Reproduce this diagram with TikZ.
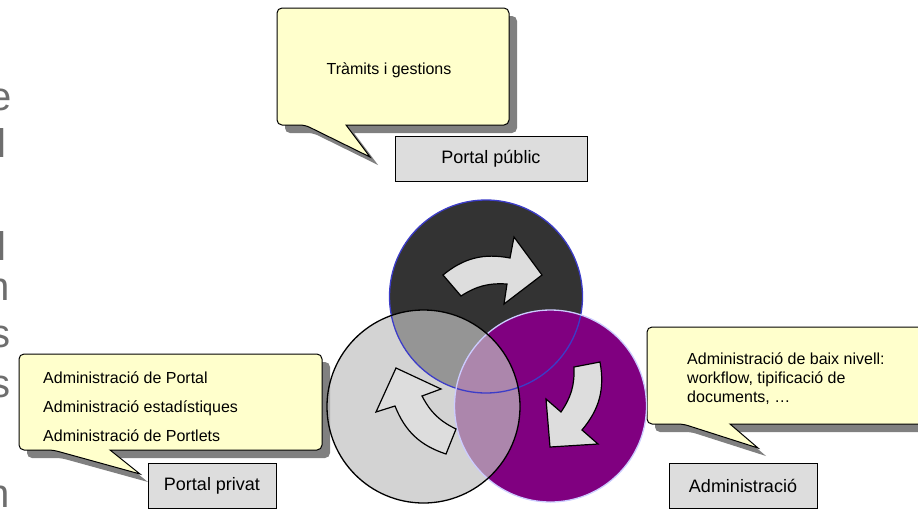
\documentclass[tikz,border=0pt]{standalone}
\usepackage{fontspec}
\setmainfont{Liberation Sans}
\usetikzlibrary{positioning}

\definecolor{notefill}{HTML}{FFFFCC}
\definecolor{shadecol}{HTML}{808080}
\definecolor{tagfill}{HTML}{DDDDDD}
\definecolor{darkc}{HTML}{333333}
\definecolor{bluec}{HTML}{3C3CC8}
\definecolor{purc}{HTML}{800080}
\definecolor{lilac}{HTML}{CCCCFF}
\definecolor{greyc}{HTML}{C0C0C0}
\definecolor{fragc}{HTML}{6E6E6E}

\tikzstyle{bubble}=[draw, fill=notefill, line width=1pt, rounded corners=5pt]
\tikzstyle{bubshadow}=[fill=shadecol, rounded corners=5pt, shift={(8,8)}]
\tikzstyle{tagbox}=[draw, fill=tagfill, line width=1pt, inner sep=0pt, font=\fontsize{18}{22}\selectfont]
\tikzstyle{notetext}=[inner sep=0pt, align=left]
\tikzstyle{turn}=[draw, fill=tagfill, line width=1.2pt, line join=miter]
\tikzstyle{frag}=[anchor=base east, inner sep=0pt, text=fragc, font=\fontsize{40}{48}\selectfont]

\begin{document}
\begin{tikzpicture}[x=1pt,y=-1pt]
            \useasboundingbox (0,0) rectangle (918,509);
            \clip (0,0) rectangle (918,509);
            \node[frag] (fa) at (12,110) {e};
            \node[frag] (fb) at (7,157) {l};
            \node[frag] (fc) at (7,260) {l};
            \node[frag] (fd) at (10,300) {n};
            \node[frag] (fe) at (11,347) {s};
            \node[frag] (ff) at (11,397) {s};
            \node[frag] (fg) at (10,507) {n};
            \fill[bubshadow] (346,125) -- (509,125) -- (509,8) -- (277,8) -- (277,125) -- (305,125) [sharp corners] -- (370,157) -- cycle;
            \draw[bubble] (346,125) -- (509,125) -- (509,8) -- (277,8) -- (277,125) -- (305,125) [sharp corners] -- (370,157) -- cycle;
            \node[notetext, font=\fontsize{16}{19}\selectfont] (tramits) at (389,70) {Tràmits i gestions};
            \node[tagbox, minimum width=192pt, minimum height=45pt] (public) at (491,158.5) {Portal públic};
            \fill[bubshadow] (110,450) -- (322,450) -- (322,354) -- (19,354) -- (19,450) -- (53,450) [sharp corners] -- (140,474) -- cycle;
            \draw[bubble] (110,450) -- (322,450) -- (322,354) -- (19,354) -- (19,450) -- (53,450) [sharp corners] -- (140,474) -- cycle;
            \node[notetext, font=\fontsize{16}{29}\selectfont, anchor=west] (privtext) at (43,407) {Administració de Portal\\Administració estadístiques\\Administració de Portlets};
            \node[tagbox, minimum width=128pt, minimum height=45pt] (private) at (212,485.5) {Portal privat};
            \fill[bubshadow] (730,424) -- (935,424) -- (935,327) -- (647,327) -- (647,424) -- (683,424) [sharp corners] -- (758,448) -- cycle;
            \draw[bubble] (730,424) -- (935,424) -- (935,327) -- (647,327) -- (647,424) -- (683,424) [sharp corners] -- (758,448) -- cycle;
            \node[notetext, font=\fontsize{16}{19}\selectfont, anchor=west] (admtext) at (687,379) {Administració de baix nivell:\\workflow, tipificació de\\documents, …};
            \node[tagbox, minimum width=148pt, minimum height=45pt] (admin) at (743,486) {Administració};
            \fill[darkc] (486,296.5) circle (96.5);
            \fill[purc] (550.5,406) circle (96);
            \fill[greyc, fill opacity=0.7] (423.5,406.5) circle (96.5);
            \draw[bluec, line width=1.3pt] (486,296.5) circle (96.5);
            \draw[lilac, line width=1.3pt] (550.5,406) circle (96);
            \draw[black, line width=1.3pt] (423.5,406.5) circle (96.5);
            \draw[turn] (443,275) to[bend left=25] (510,258) -- (514,237) -- (542,275) -- (504,304) -- (507,284) to[bend right=18] (461,296) -- cycle;
            \draw[turn] (396,368) -- (441,389) -- (422,396) to[bend right=18] (456,429) -- (446,454) to[bend left=25] (395,406) -- (376,412) -- cycle;
            \draw[turn] (574,367) to[bend left=18] (561,412) -- (546,399) -- (550,447) -- (598,444) -- (582,430) to[bend right=25] (600,362) -- cycle;
        \end{tikzpicture}
\end{document}
